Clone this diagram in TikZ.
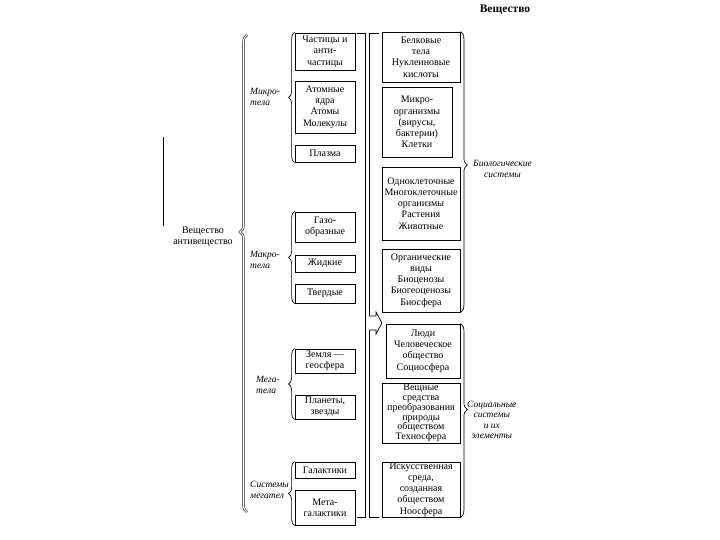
\documentclass[tikz,border=0pt]{standalone}
\usepackage{fontspec}
\setmainfont{Liberation Serif}
\usetikzlibrary{decorations.pathreplacing,positioning}

\begin{document}
\begin{tikzpicture}[x=1pt, y=-1pt,
    box/.style={draw, rectangle, line width=0.8pt, align=center, inner sep=0.5pt, font=\fontsize{10}{11.2}\selectfont},
    grp/.style={font=\fontsize{9.5}{10.5}\selectfont\itshape, align=left, anchor=west, inner sep=0pt},
    lbrace/.style={decorate, decoration={brace, amplitude=6pt}, line width=0.7pt},
    rbrace/.style={decorate, decoration={brace, amplitude=7pt}, line width=0.7pt},
  ]
  \useasboundingbox (0,0) rectangle (720,540);

  % === Title ===
  \node[font=\fontsize{11.5}{13}\selectfont\bfseries] (Title) at (505,10) {Вещество};

  % === Matter / antimatter ===
  \node[font=\fontsize{10}{11}\selectfont, align=center] (Matter) at (203,237) {Вещество\\антивещество};
  \draw[line width=0.7pt] (163,137) -- (163,226);
  \coordinate (BigTop) at (247,35);
  \coordinate (BigBot) at (247,512);
  \draw[decorate, decoration={brace, amplitude=7pt, aspect=0.587}, double, double distance=1.2pt, line width=0.5pt] (BigBot) -- (BigTop);

  % === Micro-bodies ===
  \node[box, minimum width=60, minimum height=37] (Particles) at (325,51.5) {Частицы и\\анти-\\частицы};
  \node[box, minimum width=60, minimum height=52] (Atoms) at (325,107) {Атомные\\ядра\\Атомы\\Молекулы};
  \node[box, minimum width=60, minimum height=17] (Plasma) at (325,153.5) {Плазма};
  \draw[lbrace] (Plasma.south west) -- (Particles.north west);
  \node[grp] (MicroLbl) at (250,97) {Микро-\\тела};

  % === Macro-bodies ===
  \node[box, minimum width=60, minimum height=30] (Gas) at (325,227) {Газо-\\образные};
  \node[box, minimum width=60, minimum height=17] (Liquid) at (325,263.5) {Жидкие};
  \node[box, minimum width=60, minimum height=19] (Solid) at (325,293.5) {Твердые};
  \draw[lbrace] (Solid.south west) -- (Gas.north west);
  \node[grp] (MacroLbl) at (250,260) {Макро-\\тела};

  % === Mega-bodies ===
  \node[box, minimum width=60, minimum height=24] (Earth) at (325,361) {Земля —\\геосфера};
  \node[box, minimum width=60, minimum height=24] (Planets) at (325,407) {Планеты,\\звезды};
  \draw[lbrace] (Planets.south west) -- (Earth.north west);
  \node[grp] (MegaLbl) at (256,385) {Мега-\\тела};

  % === Systems of mega-bodies ===
  \node[box, minimum width=60, minimum height=16] (Galaxy) at (325,470) {Галактики};
  \node[box, minimum width=60, minimum height=35] (Metagalaxy) at (325,507.5) {Мета-\\галактики};
  \draw[lbrace] (Metagalaxy.south west) -- (Galaxy.north west);
  \node[grp] (SysLbl) at (250,490) {Системы\\мегател};

  % === Brackets between the columns ===
  \draw[line width=0.7pt] (357,33) -- (365,33) -- (365,517) -- (357,517);
  \draw[line width=0.7pt] (379,33) -- (369,33) -- (369,517) -- (379,517);
  \draw[line width=0.7pt, fill=white] (369,316) -- (376,316) -- (376,312) -- (382,323) -- (376,334) -- (376,330) -- (369,330);

  % === Biological systems ===
  \node[box, minimum width=78, minimum height=50] (Proteins) at (421,57) {Белковые\\тела\\Нуклеиновые\\кислоты};
  \node[box, minimum width=70, minimum height=70] (Microbes) at (417,122) {Микро-\\организмы\\(вирусы,\\бактерии)\\Клетки};
  \node[box, minimum width=78, minimum height=73] (Organisms) at (421,203.5) {Одноклеточные\\Многоклеточные\\организмы\\Растения\\Животные};
  \node[box, minimum width=78, minimum height=63] (Species) at (421,280.5) {Органические\\виды\\Биоценозы\\Биогеоценозы\\Биосфера};
  \draw[rbrace, decoration={aspect=0.475}] (Proteins.north east) -- (Species.south east);
  \node[grp, align=center] (BioLbl) at (473,169) {Биологические\\системы};

  % === Social systems ===
  \node[box, minimum width=74, minimum height=54] (People) at (423,351) {Люди\\Человеческое\\общество\\Социосфера};
  \node[box, minimum width=78, minimum height=60, font=\fontsize{10}{9.8}\selectfont] (Techno) at (421,413) {Вещные\\средства\\преобразования\\природы\\обществом\\Техносфера};
  \node[box, minimum width=78, minimum height=55] (Noo) at (421,489.5) {Искусственная\\среда,\\созданная\\обществом\\Ноосфера};
  \draw[rbrace, decoration={aspect=0.443}] (People.north east) -- (Noo.south east);
  \node[grp, align=center] (SocLbl) at (467,420) {Социальные\\системы\\и их\\элементы};

\end{tikzpicture}
\end{document}
